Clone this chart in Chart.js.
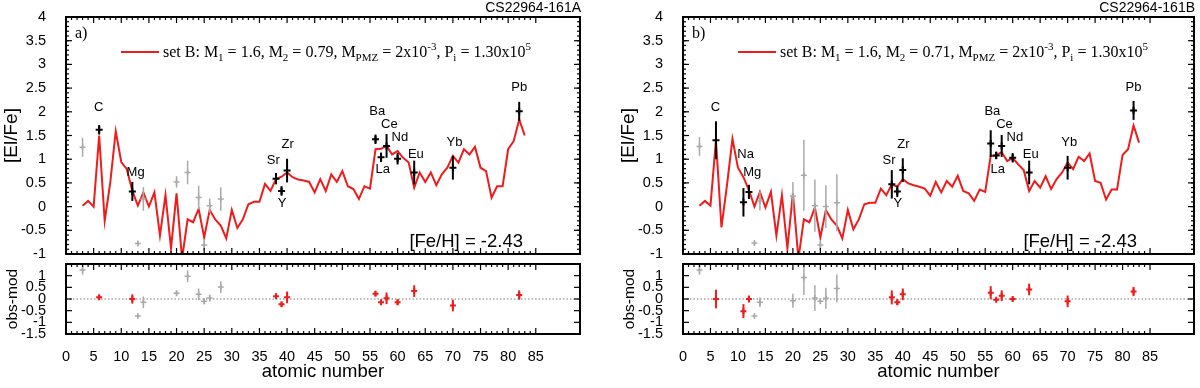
<!DOCTYPE html>
<html>
<head>
<meta charset="utf-8">
<script src="https://cdn.jsdelivr.net/npm/chart.js@4.4.0/dist/chart.umd.min.js"></script>
<style>
  body { margin: 0; width: 1200px; height: 388px; background: #fff; position: relative; overflow: hidden; }
  .box { position: absolute; }
</style>
</head>
<body>
<div class="box" style="left:0;top:0;width:600px;height:260px"><canvas id="topA"></canvas></div>
<div class="box" style="left:0;top:258px;width:600px;height:130px"><canvas id="botA"></canvas></div>
<div class="box" style="left:617px;top:0;width:583px;height:260px"><canvas id="topB"></canvas></div>
<div class="box" style="left:617px;top:258px;width:583px;height:130px"><canvas id="botB"></canvas></div>
<script>
// tick labels
const X_TICKS = [0, 5, 10, 15, 20, 25, 30, 35, 40, 45, 50, 55, 60, 65, 70, 75, 80, 85];
const Y_TICKS_TOP = [-1, -0.5, 0, 0.5, 1, 1.5, 2, 2.5, 3, 3.5, 4];
const Y_TICKS_BOT = [-1.5, -1, -0.5, 0, 0.5, 1];

// model curves (atomic number 3..83)
const Z_MODEL = [3, 4, 5, 6, 7, 8, 9, 10, 11, 12, 13, 14, 15, 16, 17, 18, 19, 20, 21, 22,
  23, 24, 25, 26, 27, 28, 29, 30, 31, 32, 33, 34, 35, 36, 37, 38, 39, 40, 41, 42,
  43, 44, 45, 46, 47, 48, 49, 50, 51, 52, 53, 54, 55, 56, 57, 58, 59, 60, 61, 62,
  63, 64, 65, 66, 67, 68, 69, 70, 71, 72, 73, 74, 75, 76, 77, 78, 79, 80, 81, 82, 83];
const MODEL_A = [0.02, 0.12, 0.00, 1.50, -0.30, 0.50, 1.59, 0.94, 0.79, 0.33,
  0.02, 0.30, 0.00, 0.30, -0.61, 0.24, -0.88, 0.28, -1.10, -0.27,
  -0.33, -0.05, -0.65, -0.07, -0.27, -0.40, -0.67, -0.07, -0.45, -0.27,
  0.05, 0.10, 0.10, 0.48, 0.33, 0.58, 0.63, 0.72, 0.62, 0.57,
  0.55, 0.52, 0.30, 0.58, 0.33, 0.68, 0.52, 0.75, 0.43, 0.37,
  0.16, 0.43, 0.38, 1.21, 1.22, 1.28, 1.10, 1.17, 1.03, 0.93,
  0.40, 0.72, 0.52, 0.72, 0.45, 0.68, 0.82, 1.07, 0.93, 1.21,
  1.10, 1.26, 0.82, 0.75, 0.19, 0.43, 0.43, 1.21, 1.38, 1.84, 1.50];
const MODEL_B = [0.02, 0.12, 0.02, 1.40, -0.44, 0.45, 1.43, 0.82, 0.62, 0.35,
  0.00, 0.31, -0.02, 0.31, -0.61, 0.24, -0.88, 0.28, -1.10, -0.27,
  -0.33, -0.02, -0.65, -0.07, -0.27, -0.40, -0.67, -0.07, -0.48, -0.27,
  0.05, 0.08, 0.08, 0.38, 0.24, 0.47, 0.42, 0.58, 0.49, 0.45,
  0.42, 0.38, 0.23, 0.52, 0.30, 0.54, 0.42, 0.65, 0.33, 0.28,
  0.12, 0.36, 0.31, 1.07, 1.08, 1.15, 0.96, 1.03, 0.89, 0.77,
  0.33, 0.54, 0.40, 0.64, 0.37, 0.58, 0.72, 0.93, 0.79, 1.05,
  0.96, 1.12, 0.54, 0.50, 0.15, 0.36, 0.36, 1.09, 1.21, 1.71, 1.35];

// CS22964-161A : fitted elements
const OBS_A_Z = [6, 12, 38, 39, 40, 56, 57, 58, 60, 63, 70, 82];
const OBS_A_V = [1.62, 0.32, 0.59, 0.33, 0.76, 1.42, 1.04, 1.28, 1.01, 0.72, 0.82, 2.01];
const OBS_A_E = [0.10, 0.20, 0.12, 0.10, 0.25, 0.10, 0.10, 0.25, 0.12, 0.25, 0.25, 0.20];
const RES_A_V = [0.07, 0.00, 0.12, -0.23, 0.07, 0.23, -0.14, 0.03, -0.14, 0.34, -0.28, 0.17];
// CS22964-161A : not fitted
const GRAY_A_Z = [3, 13, 14, 20, 22, 24, 25, 26, 28];
const GRAY_A_V = [1.25, -0.78, 0.16, 0.52, 0.72, 0.19, -0.81, 0.02, 0.16];
const GRAY_A_E = [0.20, 0.05, 0.25, 0.12, 0.25, 0.25, 0.12, 0.15, 0.25];
const GRES_A_V = [1.24, -0.73, -0.14, 0.25, 0.97, 0.20, -0.10, 0.04, 0.51];

// CS22964-161B : fitted elements
const OBS_B_Z = [6, 11, 12, 38, 39, 40, 56, 57, 58, 60, 63, 70, 82];
const OBS_B_V = [1.40, 0.09, 0.31, 0.47, 0.32, 0.77, 1.33, 1.08, 1.28, 1.03, 0.72, 0.82, 2.03];
const OBS_B_E = [0.40, 0.30, 0.15, 0.30, 0.12, 0.25, 0.28, 0.08, 0.23, 0.10, 0.25, 0.25, 0.20];
const RES_B_V = [0.00, -0.52, 0.00, 0.07, -0.14, 0.20, 0.27, -0.03, 0.14, 0.00, 0.41, -0.10, 0.32];
// CS22964-161B : not fitted
const GRAY_B_Z = [3, 13, 14, 20, 22, 24, 25, 26, 28];
const GRAY_B_V = [1.27, -0.77, 0.12, 0.22, 0.66, 0.02, -0.81, 0.00, 0.08];
const GRAY_B_E = [0.20, 0.05, 0.20, 0.30, 0.75, 0.55, 0.10, 0.45, 0.60];
const GRES_B_V = [1.24, -0.73, -0.14, -0.07, 0.92, 0.04, -0.10, 0.03, 0.45];

// element names next to the points
const NAMES_A = ['C', 'Mg', 'Sr', 'Y', 'Zr', 'Ba', 'La', 'Ce', 'Nd', 'Eu', 'Yb', 'Pb'];
const NAMES_B = ['C', 'Na', 'Mg', 'Sr', 'Y', 'Zr', 'Ba', 'La', 'Ce', 'Nd', 'Eu', 'Yb', 'Pb'];

// where the element names sit (data coords)
const NAME_POS = {
  C: [5.9, 2.1], Na: [11.4, 1.1], Mg: [12.6, 0.72], Sr: [37.5, 0.97], Y: [39.1, 0.07],
  Zr: [40.1, 1.31], Ba: [56.3, 2.0], La: [57.3, 0.79], Ce: [58.5, 1.73], Nd: [60.4, 1.46],
  Eu: [63.3, 1.1], Yb: [70.3, 1.36], Pb: [82, 2.51]
};

Chart.defaults.font.family = '"Liberation Sans", Arial, sans-serif';
Chart.defaults.color = '#000';
Chart.defaults.animation = false;

const RED = '#ee1c1c';
const GRAY = '#a9a9a9';
const SERIF = '"Liberation Serif", "Times New Roman", serif';

const pts = (xs, ys) => xs.map((x, i) => ({ x: x, y: ys[i] }));

function line(ctx, x1, y1, x2, y2) {
  ctx.beginPath(); ctx.moveTo(x1, y1); ctx.lineTo(x2, y2); ctx.stroke();
}

const deco = {
  id: 'deco',
  beforeDatasetsDraw(chart, args, o) {
    if (!o.zero) return;
    const { ctx, chartArea: a } = chart;
    const py = chart.scales.y.getPixelForValue(0);
    ctx.save();
    ctx.strokeStyle = '#777'; ctx.lineWidth = 1; ctx.setLineDash([1.5, 2]);
    line(ctx, a.left, py, a.right, py);
    ctx.restore();
  },
  afterDatasetDraw(chart, args) {
    const ds = chart.data.datasets[args.index];
    if (!ds.err) return;
    const { ctx, chartArea: a } = chart;
    const x = chart.scales.x, y = chart.scales.y;
    ctx.save();
    ctx.beginPath(); ctx.rect(a.left, a.top, a.right - a.left, a.bottom - a.top); ctx.clip();
    ctx.strokeStyle = ds.borderColor; ctx.lineWidth = ds.borderWidth;
    ds.data.forEach((p, i) => {
      const px = x.getPixelForValue(p.x);
      line(ctx, px, y.getPixelForValue(p.y - ds.err[i]), px, y.getPixelForValue(p.y + ds.err[i]));
    });
    ctx.restore();
  },
  afterDatasetsDraw(chart, args, o) {
    const { ctx, chartArea: a } = chart;
    const x = chart.scales.x, y = chart.scales.y;
    ctx.save();
    ctx.strokeStyle = '#000'; ctx.lineWidth = 1.2;
    for (let z = 0; z <= 85; z++) {
      const px = x.getPixelForValue(z);
      const len = z % 5 === 0 ? 6 : 3;
      line(ctx, px, a.bottom, px, a.bottom - len);
      line(ctx, px, a.top, px, a.top + len);
    }
    o.yTicks.forEach(v => {
      const py = y.getPixelForValue(v);
      line(ctx, a.left, py, a.left + 6, py);
      line(ctx, a.right, py, a.right - 6, py);
    });
    if (o.yMinor) {
      for (let k = y.min * 10; k <= y.max * 10; k++) {
        const py = y.getPixelForValue(k / 10);
        line(ctx, a.left, py, a.left + 3, py);
        line(ctx, a.right, py, a.right - 3, py);
      }
    }
    ctx.lineWidth = 2;
    ctx.strokeRect(a.left, a.top, a.right - a.left, a.bottom - a.top);
    ctx.restore();
  },
  afterDraw(chart, args, o) {
    if (!o.names) return;
    const { ctx, chartArea: a } = chart;
    const x = chart.scales.x, y = chart.scales.y;
    ctx.save();
    ctx.fillStyle = '#000';
    // element names
    ctx.font = '13px "Liberation Sans", Arial, sans-serif';
    ctx.textAlign = 'center'; ctx.textBaseline = 'middle';
    o.names.forEach(n => {
      const p = NAME_POS[n];
      ctx.fillText(n, x.getPixelForValue(p[0]), y.getPixelForValue(p[1]));
    });
    // star name
    ctx.font = '14px "Liberation Sans", Arial, sans-serif';
    ctx.textAlign = 'right'; ctx.textBaseline = 'alphabetic';
    ctx.fillText(o.star, a.right + 1, 12);
    // metallicity
    ctx.font = '18.5px "Liberation Sans", Arial, sans-serif';
    ctx.fillText('[Fe/H] = -2.43', a.right - 57, a.bottom - 7);
    // panel tag
    ctx.textAlign = 'left';
    ctx.font = '16px ' + SERIF;
    ctx.fillText(o.tag, a.left + 9, 38);
    // legend
    ctx.strokeStyle = RED; ctx.lineWidth = 2;
    line(ctx, a.left + 55, 52, a.left + 93, 52);
    let tx = a.left + 97;
    const base = 57;
    o.legend.forEach(seg => {
      const small = seg[1] !== 0;
      ctx.font = (small ? '11px ' : '16px ') + SERIF;
      const dy = seg[1] === 1 ? 4 : (seg[1] === 2 ? -7 : 0);
      ctx.fillText(seg[0], tx, base + dy);
      tx += ctx.measureText(seg[0]).width;
    });
    ctx.restore();
  }
};

function xScale(show) {
  return {
    type: 'linear', min: 0, max: 93, display: show,
    grid: { display: false }, border: { display: false },
    afterBuildTicks: s => { s.ticks = X_TICKS.map(v => ({ value: v })); },
    ticks: { autoSkip: false, maxRotation: 0, padding: 6, font: { size: 14.5 } },
    title: { display: show, text: 'atomic number', font: { size: 18.5 }, padding: { top: 0, bottom: 5 } },
    afterFit: s => { if (show) s.height = 54; }
  };
}

function yScale(min, max, ticks, title, size, pad) {
  return {
    type: 'linear', min: min, max: max,
    grid: { display: false }, border: { display: false },
    afterBuildTicks: s => { s.ticks = ticks.map(v => ({ value: v })); },
    ticks: { autoSkip: false, padding: 12, font: { size: 14.5 }, callback: v => String(v) },
    title: { display: true, text: title, font: { size: size }, padding: { top: pad, bottom: 0 } },
    afterFit: s => { s.width = 66; s.paddingTop = 0; s.paddingBottom = 0; }
  };
}

function errSet(z, v, e, color, r, w, order) {
  return {
    data: pts(z, v), err: e, showLine: false,
    pointStyle: 'cross', pointRadius: r, borderColor: color, borderWidth: w, order: order
  };
}

function topChart(id, padRight, model, oz, ov, oe, gz, gv, ge, names, star, tag, legend) {
  new Chart(document.getElementById(id), {
    type: 'scatter',
    data: {
      datasets: [
        errSet(oz, ov, oe, '#000', 3.5, 2, 0),
        errSet(gz, gv, ge, GRAY, 3, 1.5, 1),
        { data: pts(Z_MODEL, model), showLine: true, pointRadius: 0, borderColor: RED, borderWidth: 2, order: 2 }
      ]
    },
    options: {
      responsive: true, maintainAspectRatio: false, events: [],
      layout: { padding: { left: 0, top: 17, right: padRight, bottom: 5 } },
      scales: { x: xScale(false), y: yScale(-1, 4, Y_TICKS_TOP, '[El/Fe]', 19, 0) },
      plugins: {
        legend: { display: false }, tooltip: { enabled: false },
        deco: { yTicks: Y_TICKS_TOP, yMinor: true, names: names, star: star, tag: tag, legend: legend }
      }
    },
    plugins: [deco]
  });
}

function botChart(id, padRight, oz, rv, oe, gz, grv, ge) {
  new Chart(document.getElementById(id), {
    type: 'scatter',
    data: {
      datasets: [
        errSet(oz, rv, oe, RED, 3, 2, 0),
        errSet(gz, grv, ge, GRAY, 3, 1.5, 1)
      ]
    },
    options: {
      responsive: true, maintainAspectRatio: false, events: [],
      layout: { padding: { left: 0, top: 3, right: padRight, bottom: 0 } },
      scales: { x: xScale(true), y: yScale(-1.5, 1.5, Y_TICKS_BOT, 'obs-mod', 15.5, 3) },
      plugins: {
        legend: { display: false }, tooltip: { enabled: false },
        deco: { yTicks: Y_TICKS_BOT, yMinor: false, zero: true }
      }
    },
    plugins: [deco]
  });
}

const LEGEND_A = [['set B: M', 0], ['1', 1], [' = 1.6, M', 0], ['2', 1], [' = 0.79, M', 0], ['PMZ', 1],
  [' = 2x10', 0], ['-3', 2], [', P', 0], ['i', 1], [' = 1.30x10', 0], ['5', 2]];
const LEGEND_B = [['set B: M', 0], ['1', 1], [' = 1.6, M', 0], ['2', 1], [' = 0.71, M', 0], ['PMZ', 1],
  [' = 2x10', 0], ['-3', 2], [', P', 0], ['i', 1], [' = 1.30x10', 0], ['5', 2]];

topChart('topA', 20, MODEL_A, OBS_A_Z, OBS_A_V, OBS_A_E, GRAY_A_Z, GRAY_A_V, GRAY_A_E,
  NAMES_A, 'CS22964-161A', 'a)', LEGEND_A);
botChart('botA', 20, OBS_A_Z, RES_A_V, OBS_A_E, GRAY_A_Z, GRES_A_V, GRAY_A_E);
topChart('topB', 3, MODEL_B, OBS_B_Z, OBS_B_V, OBS_B_E, GRAY_B_Z, GRAY_B_V, GRAY_B_E,
  NAMES_B, 'CS22964-161B', 'b)', LEGEND_B);
botChart('botB', 3, OBS_B_Z, RES_B_V, OBS_B_E, GRAY_B_Z, GRES_B_V, GRAY_B_E);
</script>
</body>
</html>
